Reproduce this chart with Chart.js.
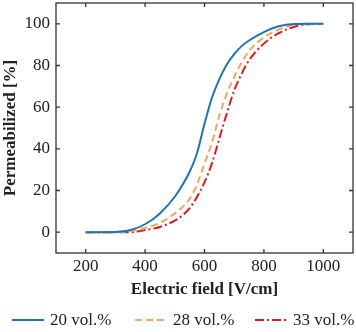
<!DOCTYPE html>
<html>
<head>
<meta charset="utf-8">
<script src="https://cdn.jsdelivr.net/npm/chart.js@4"></script>
<style>
    body { margin: 0; background: #fff; }
    #wrap { position: relative; width: 356px; height: 332px; }
    #chart { position: absolute; left: 0; top: 0; }
    #legend {
        position: absolute; left: 0; top: 310px; width: 356px; height: 20px;
        font: 17px "Liberation Serif", "Times New Roman", serif; color: #222;
    }
    .item { position: absolute; top: 0; display: flex; align-items: center; height: 20px; white-space: nowrap; }
    .item svg { margin-right: 6px; }
</style>
</head>
<body>
<div id="wrap">
    <canvas id="chart" width="356" height="332"></canvas>
    <div id="legend"></div>
</div>
<script>
// Electric field [V/cm]
const field = [200, 250, 300, 350, 400, 450, 500, 525, 550, 575, 600, 625, 650, 675, 700, 725, 750, 800, 850, 900, 950, 1000];
// Permeabilized [%]
const vol20 = [0, 0, 0.1, 1, 3.8, 9, 17, 22.5, 29, 38, 52, 64.5, 73.5, 80.5, 85.5, 89.3, 92, 96, 98.8, 99.9, 100, 100];
const vol28 = [0, 0, 0, 0.5, 2, 4.5, 9, 12, 16, 23, 33, 43, 56, 66.5, 74.5, 81.5, 87, 93.5, 97.3, 99.5, 100, 100];
const vol33 = [0, 0, 0, 0, 1, 2.5, 5.5, 8, 11.5, 17, 24, 33, 45, 57, 68, 76, 82.5, 90.5, 95.5, 98.5, 99.8, 100];

const seriesNames = ["20 vol.%", "28 vol.%", "33 vol.%"];
const xTicks = [200, 400, 600, 800, 1000];
const yTicks = [0, 20, 40, 60, 80, 100];

const colors = ["#1f74b4", "#f6a55c", "#d81e22"];
const dashes = [[], [7, 4], [9, 3, 2, 3]];
const serif = "'Liberation Serif', 'Times New Roman', serif";

function toPoints(ys) {
    return field.map((x, i) => ({ x: x, y: ys[i] }));
}

// frame round the plot plus inward tick marks on all four sides
const framePlugin = {
    id: "frame",
    afterDatasetsDraw(chart) {
        const { ctx, chartArea: a, scales } = chart;
        ctx.save();
        ctx.strokeStyle = "#333";
        ctx.lineWidth = 1.3;
        ctx.setLineDash([]);
        ctx.strokeRect(a.left, a.top, a.right - a.left, a.bottom - a.top);
        const len = 4;
        ctx.beginPath();
        xTicks.forEach(v => {
            const px = scales.x.getPixelForValue(v);
            ctx.moveTo(px, a.bottom); ctx.lineTo(px, a.bottom - len);
            ctx.moveTo(px, a.top); ctx.lineTo(px, a.top + len);
        });
        yTicks.forEach(v => {
            const py = scales.y.getPixelForValue(v);
            ctx.moveTo(a.left, py); ctx.lineTo(a.left + len, py);
            ctx.moveTo(a.right, py); ctx.lineTo(a.right - len, py);
        });
        ctx.stroke();
        ctx.restore();
    }
};

new Chart(document.getElementById("chart"), {
    type: "line",
    data: {
        datasets: [vol20, vol28, vol33].map((ys, i) => ({
            label: seriesNames[i],
            data: toPoints(ys),
            borderColor: colors[i],
            borderWidth: 2,
            borderDash: dashes[i],
            pointRadius: 0,
            fill: false,
            cubicInterpolationMode: "monotone"
        }))
    },
    options: {
        responsive: false,
        animation: false,
        layout: { padding: { left: 0, top: 3, right: 3, bottom: 32 } },
        plugins: { legend: { display: false }, tooltip: { enabled: false } },
        scales: {
            x: {
                type: "linear",
                min: 100,
                max: 1100,
                afterBuildTicks: s => { s.ticks = xTicks.map(v => ({ value: v })); },
                afterFit: s => { s.height = 47; s.paddingLeft = 0; s.paddingRight = 0; },
                grid: { display: false, drawTicks: false },
                border: { display: false },
                ticks: {
                    padding: 3, color: "#222", font: { family: serif, size: 17 },
                    callback: v => String(v)
                },
                title: {
                    display: true,
                    text: "Electric field [V/cm]",
                    color: "#222",
                    padding: 0,
                    font: { family: serif, size: 17, weight: "bold" }
                }
            },
            y: {
                min: -10,
                max: 110,
                afterBuildTicks: s => { s.ticks = yTicks.map(v => ({ value: v })); },
                afterFit: s => { s.width = 56; s.paddingTop = 0; s.paddingBottom = 0; },
                grid: { display: false, drawTicks: false },
                border: { display: false },
                ticks: {
                    padding: 6, color: "#222", font: { family: serif, size: 17 },
                    callback: v => String(v)
                },
                title: {
                    display: true,
                    text: "Permeabilized [%]",
                    color: "#222",
                    padding: 0,
                    font: { family: serif, size: 17, weight: "bold" }
                }
            }
        }
    },
    plugins: [framePlugin]
});

// legend row under the chart
const legendLeft = [12, 135, 255];
const legend = document.getElementById("legend");
seriesNames.forEach((name, i) => {
    const item = document.createElement("div");
    item.className = "item";
    item.style.left = legendLeft[i] + "px";
    item.innerHTML =
        '<svg width="32" height="6"><line x1="0" y1="3" x2="32" y2="3" stroke="' + colors[i] +
        '" stroke-width="2" stroke-dasharray="' + (dashes[i].length ? dashes[i].join(" ") : "none") +
        '"/></svg><span>' + name + '</span>';
    legend.appendChild(item);
});
</script>
</body>
</html>
